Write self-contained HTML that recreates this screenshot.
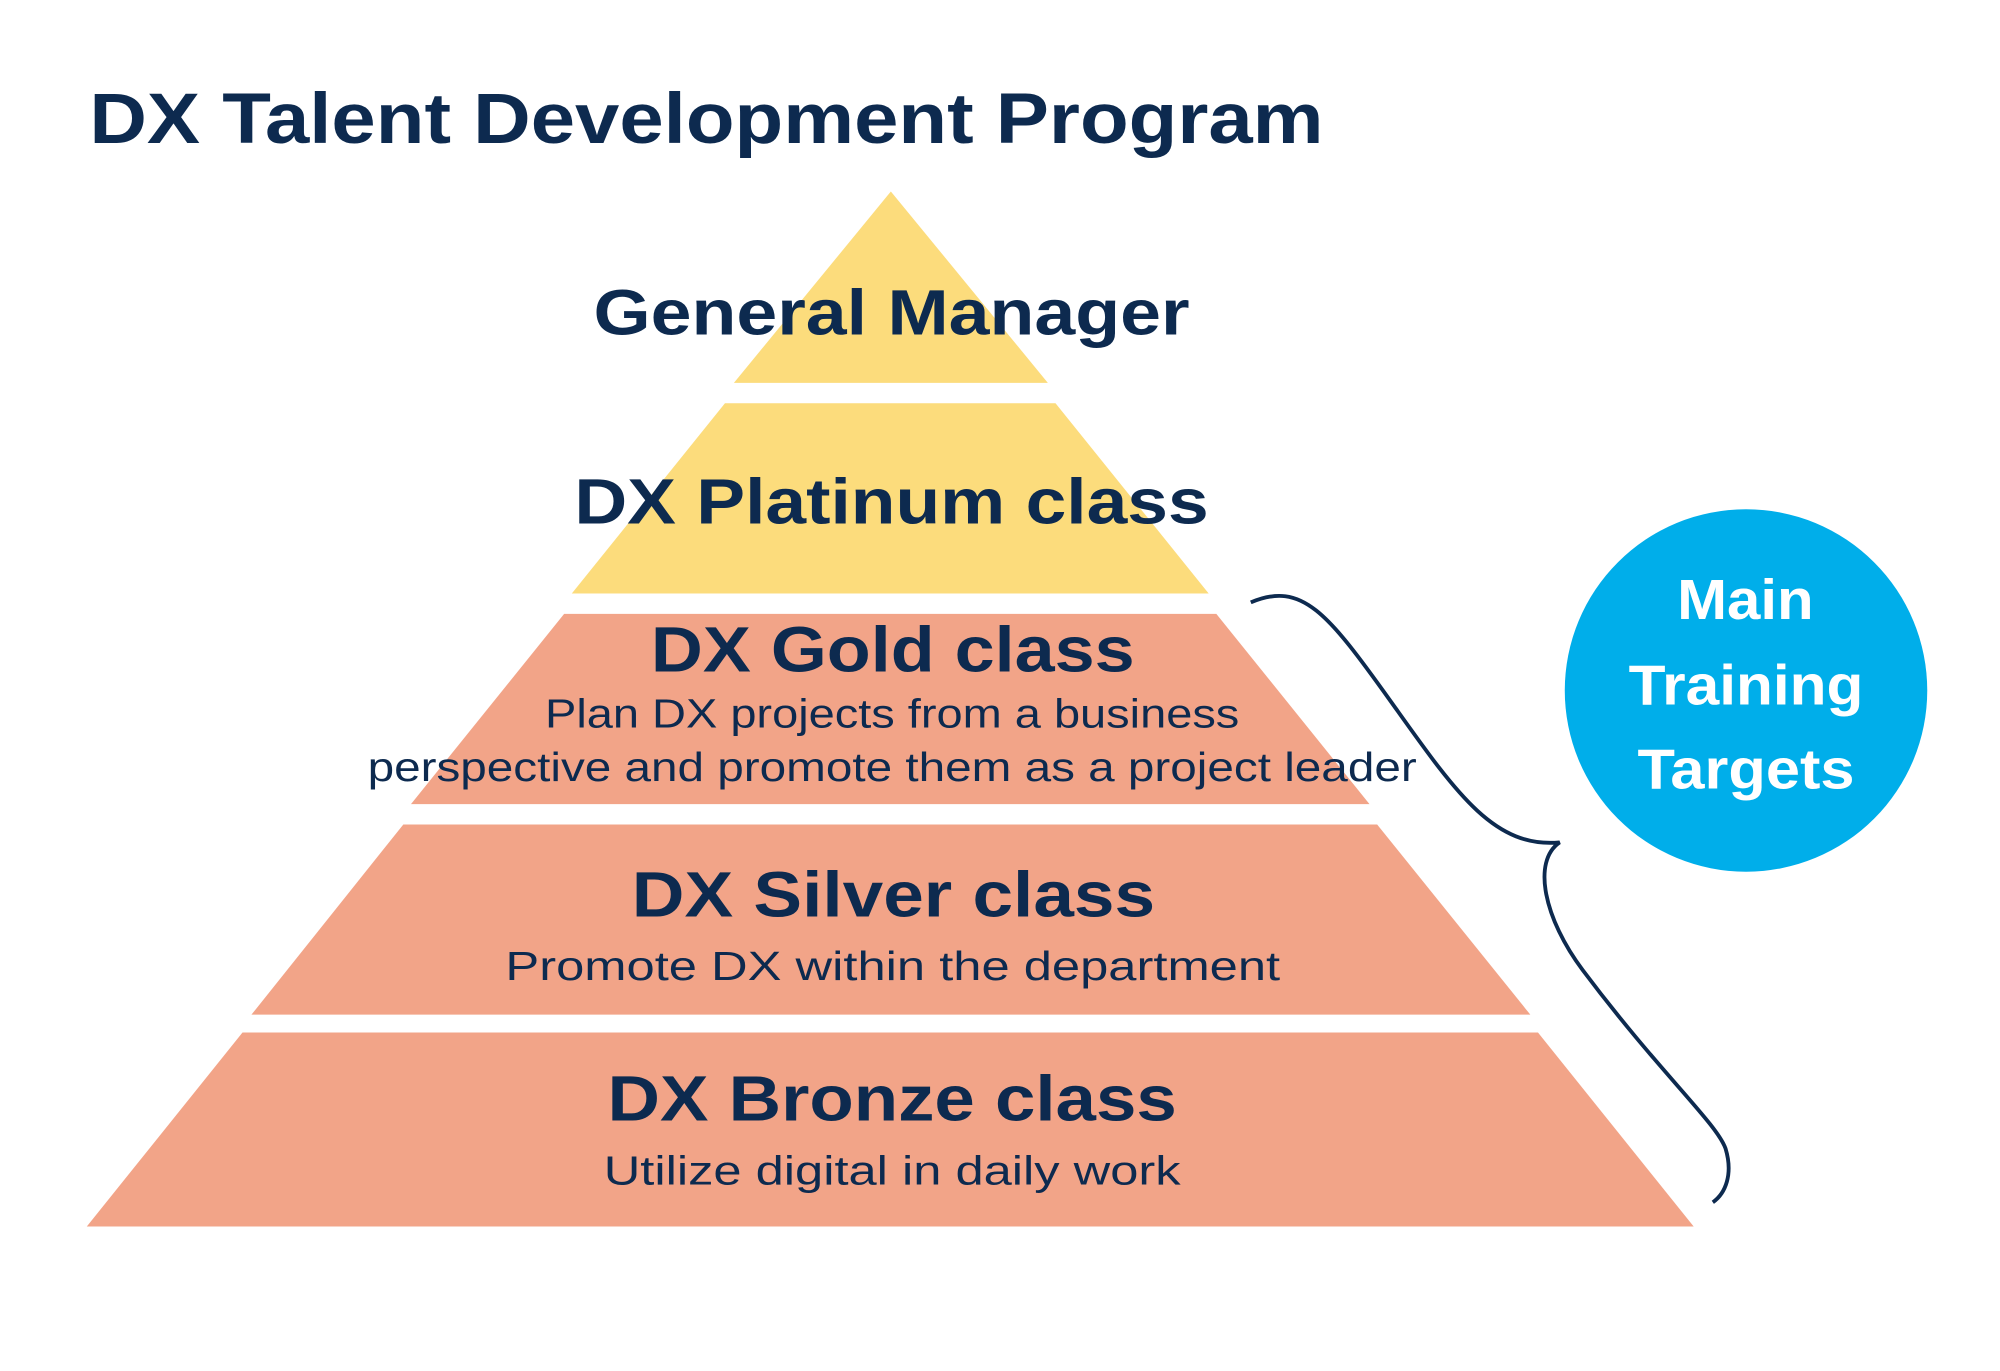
<!DOCTYPE html>
<html><head><meta charset="utf-8"><style>
html,body{margin:0;padding:0;background:#fff;}
svg{display:block;}
text{font-family:"Liberation Sans",sans-serif;fill:#0d2a4f;}
</style></head><body>
<svg width="2000" height="1371" viewBox="0 0 1567 1074.2" preserveAspectRatio="none" xmlns="http://www.w3.org/2000/svg">
<rect width="1567" height="1075" fill="#fff"/>
<text x="70" y="112" font-size="56" font-weight="600" textLength="967" lengthAdjust="spacingAndGlyphs">DX Talent Development Program</text>
<polygon points="698,150 821,300 575,300" fill="#fcdc7c"/>
<polygon points="568,316 827,316 947,465 448,465" fill="#fcdc7c"/>
<polygon points="442,481 953,481 1073,630 322,630" fill="#f2a488"/>
<polygon points="316,646 1079,646 1199,795 197,795" fill="#f2a488"/>
<polygon points="190,809 1205,809 1327,961 68,961" fill="#f2a488"/>
<g font-weight="600" font-size="50">
<text x="465" y="262" textLength="467" lengthAdjust="spacingAndGlyphs">General Manager</text>
<text x="450" y="410" textLength="497" lengthAdjust="spacingAndGlyphs">DX Platinum class</text>
<text x="510" y="526" textLength="379" lengthAdjust="spacingAndGlyphs">DX Gold class</text>
<text x="495" y="718" textLength="410" lengthAdjust="spacingAndGlyphs">DX Silver class</text>
<text x="476" y="878" textLength="446" lengthAdjust="spacingAndGlyphs">DX Bronze class</text>
</g>
<g font-size="32">
<text x="427" y="570" textLength="544" lengthAdjust="spacingAndGlyphs">Plan DX projects from a business</text>
<text x="288" y="612" textLength="822" lengthAdjust="spacingAndGlyphs">perspective and promote them as a project leader</text>
<text x="396" y="768" textLength="607" lengthAdjust="spacingAndGlyphs">Promote DX within the department</text>
<text x="473" y="928" textLength="452" lengthAdjust="spacingAndGlyphs">Utilize digital in daily work</text>
</g>
<path d="M980,472 C1020,455 1040,480 1090,550 C1140,620 1170,665 1222,660 C1200,675 1210,720 1240,760 C1300,840 1345,880 1352,900 C1358,920 1352,935 1342,942" fill="none" stroke="#0d2a4f" stroke-width="3"/>
<circle cx="1368" cy="541" r="142" fill="#00aeea"/>
<g font-size="44" font-weight="600">
<text x="1314" y="485" textLength="107" lengthAdjust="spacingAndGlyphs" style="fill:#fff">Main</text>
<text x="1276" y="552" textLength="184" lengthAdjust="spacingAndGlyphs" style="fill:#fff">Training</text>
<text x="1283" y="618" textLength="170" lengthAdjust="spacingAndGlyphs" style="fill:#fff">Targets</text>
</g>
</svg>
</body></html>
